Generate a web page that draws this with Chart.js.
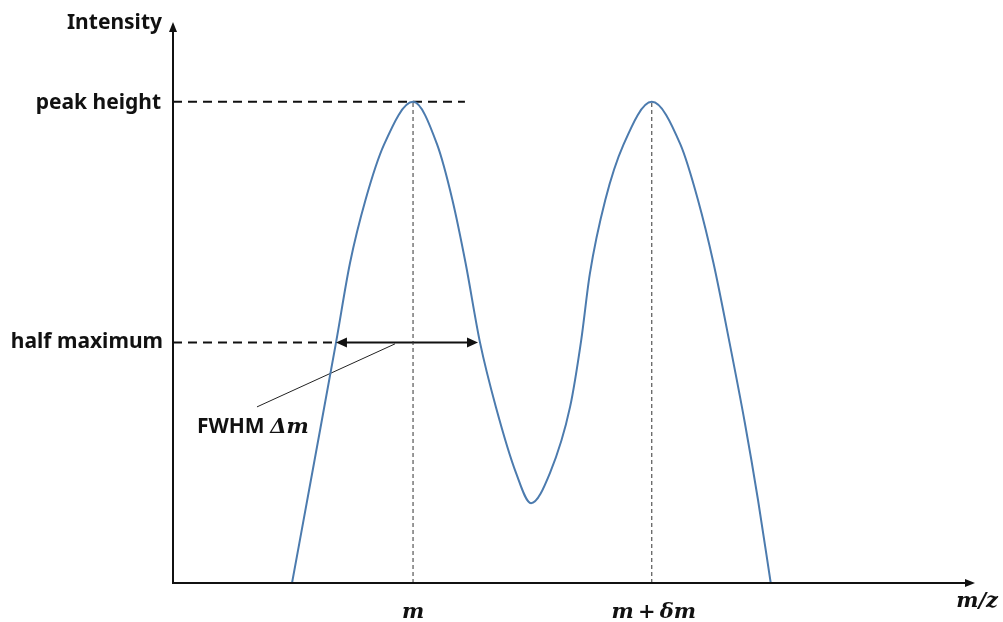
<!doctype html>
<html>
<head>
<title>Peak resolution</title>
<script src="https://cdn.jsdelivr.net/npm/chart.js@4.4.1/dist/chart.umd.min.js"></script>
<style>
  body { margin: 0; background: #fff; }
</style>
</head>
<body>
<div style="width:1003px;height:622px">
  <canvas id="peakChart" width="1003" height="622"></canvas>
</div>
<script>
// m/z (arbitrary units) and intensity
var mz = [14.84, 17.58, 20.32, 22.07, 24.00, 26.31, 29.93,
          32.94, 34.84, 36.48, 38.29, 40.26, 42.77, 44.64,
          47.01, 49.51, 50.90, 51.97, 53.90, 56.17, 59.70,
          63.28, 65.46, 67.39, 69.40, 71.30, 72.94, 74.53];
var intensity = [0, 0.249, 0.499, 0.665, 0.796, 0.911, 1.0,
                 0.911, 0.796, 0.665, 0.499, 0.366, 0.229, 0.166,
                 0.229, 0.366, 0.505, 0.642, 0.796, 0.911, 1.0,
                 0.911, 0.796, 0.665, 0.499, 0.333, 0.173, 0];

var peakHeight = 1.0;
var halfMax = 0.5;
var peakPositions = [29.93, 59.70];
var fwhmEdges = [20.32, 38.03];
var peakLineEnd = 36.4;
var pointer = [[27.68, 0.497], [10.47, 0.366]];   // leader line to the FWHM label
var tickLabels = ['m', 'm\u2009+\u2009\u03b4m'];

var xMax = 100, yMax = 1.166;

function pts(xs, ys) {
    return xs.map(function(x, i) { return {x: x, y: ys[i]}; });
}

function arrowHead(ctx, x, y, dx, dy, len, half) {
    // tip at (x,y), pointing along (dx,dy)
    var px = -dy, py = dx;
    ctx.beginPath();
    ctx.moveTo(x, y);
    ctx.lineTo(x - dx * len + px * half, y - dy * len + py * half);
    ctx.lineTo(x - dx * len - px * half, y - dy * len - py * half);
    ctx.closePath();
    ctx.fill();
}

var annotate = {
    id: 'annotate',
    afterDatasetsDraw: function(chart) {
        var ctx = chart.ctx;
        var xs = chart.scales.x, ys = chart.scales.y;
        var x0 = xs.getPixelForValue(0), y0 = ys.getPixelForValue(0);
        var xEnd = xs.getPixelForValue(xMax), yTop = ys.getPixelForValue(yMax);
        ctx.save();
        ctx.strokeStyle = '#111';
        ctx.fillStyle = '#111';
        ctx.lineWidth = 2;
        // axes
        ctx.beginPath();
        ctx.moveTo(x0, y0);
        ctx.lineTo(x0, yTop + 6);
        ctx.moveTo(x0 - 1, y0);
        ctx.lineTo(xEnd - 6, y0);
        ctx.stroke();
        arrowHead(ctx, x0, yTop, 0, -1, 10, 4);
        arrowHead(ctx, xEnd, y0, 1, 0, 10, 4);

        // FWHM arrow heads
        var hy = ys.getPixelForValue(halfMax);
        arrowHead(ctx, xs.getPixelForValue(fwhmEdges[0]), hy, -1, 0, 11, 5);
        arrowHead(ctx, xs.getPixelForValue(fwhmEdges[1]), hy, 1, 0, 11, 5);

        // text labels
        ctx.font = 'bold 21px "Noto Sans", sans-serif';
        ctx.textAlign = 'right';
        ctx.textBaseline = 'alphabetic';
        ctx.fillText('Intensity', x0 - 11, yTop + 7);
        ctx.textBaseline = 'middle';
        ctx.fillText('peak height', x0 - 12, ys.getPixelForValue(peakHeight) + 1);
        ctx.fillText('half maximum', x0 - 10, hy);

        ctx.textAlign = 'left';
        ctx.textBaseline = 'alphabetic';
        var lx = xs.getPixelForValue(pointer[1][0]) - 60;
        var ly = ys.getPixelForValue(pointer[1][1]) + 26;
        ctx.fillText('FWHM', lx, ly);
        var w = ctx.measureText('FWHM ').width;
        ctx.font = 'bold italic 21px "DejaVu Serif", serif';
        ctx.fillText('\u0394m', lx + w, ly);

        ctx.textAlign = 'center';
        peakPositions.forEach(function(p, i) {
            ctx.fillText(tickLabels[i], xs.getPixelForValue(p) + (i ? 2 : 0), y0 + 35);
        });
        ctx.textAlign = 'right';
        ctx.fillText('m/z', xEnd + 23, y0 + 24);
        ctx.restore();
    }
};

var curveColor = '#4c7bae';
var dashStyle = {borderColor: '#111', borderWidth: 2, borderDash: [9, 6], pointRadius: 0, fill: false};

var ctx = document.getElementById('peakChart').getContext('2d');
var chart = new Chart(ctx, {
    type: 'line',
    data: {
        datasets: [
            {data: pts(mz, intensity), borderColor: curveColor, borderWidth: 2,
             pointRadius: 0, cubicInterpolationMode: 'monotone', fill: false},
            Object.assign({data: pts([0, peakLineEnd], [peakHeight, peakHeight])}, dashStyle),
            Object.assign({data: pts([0, fwhmEdges[0]], [halfMax, halfMax])}, dashStyle),
            {data: pts([peakPositions[0], peakPositions[0]], [0, peakHeight]), borderColor: '#333',
             borderWidth: 1, borderDash: [4, 3], pointRadius: 0},
            {data: pts([peakPositions[1], peakPositions[1]], [0, peakHeight]), borderColor: '#333',
             borderWidth: 1, borderDash: [4, 3], pointRadius: 0},
            {data: pts(fwhmEdges.map(function(e, i) { return e + (i ? -6 : 6) / 8.02; }), [halfMax, halfMax]),
             borderColor: '#111', borderWidth: 2, pointRadius: 0},
            {data: pts([pointer[0][0], pointer[1][0]], [pointer[0][1], pointer[1][1]]),
             borderColor: '#222', borderWidth: 1, pointRadius: 0}
        ]
    },
    options: {
        responsive: false,
        animation: false,
        layout: {padding: {left: 173, right: 28, top: 22, bottom: 39}},
        scales: {
            x: {type: 'linear', min: 0, max: xMax, display: false},
            y: {type: 'linear', min: 0, max: yMax, display: false}
        },
        plugins: {legend: {display: false}, tooltip: {enabled: false}}
    },
    plugins: [annotate]
});
</script>
</body>
</html>
